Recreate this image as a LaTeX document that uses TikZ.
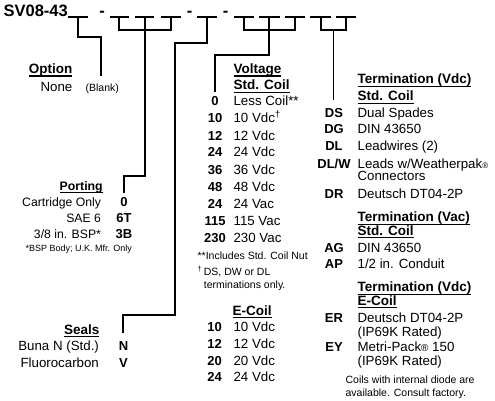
\documentclass[tikz,border=0pt]{standalone}
\usepackage{fontspec}
\setmainfont{Liberation Sans}
\newcommand{\ulhead}[1]{\setbox0=\hbox{#1}\rlap{\rule[-3.3pt]{\wd0}{1.2pt}}\box0}

\begin{document}
\begin{tikzpicture}[
            x=1pt, y=-1pt,
            line width=1.2pt,
            txt/.style={inner sep=0pt, anchor=base west, font=\fontsize{13.3}{15}\selectfont},
            txtr/.style={txt, anchor=base east},
            head/.style={inner sep=0pt, anchor=base west, font=\fontsize{13.5}{15}\selectfont\bfseries},
            code/.style={inner sep=0pt, anchor=base, font=\fontsize{13}{15}\selectfont\bfseries},
            note/.style={inner sep=0pt, anchor=base west, font=\fontsize{10.5}{12}\selectfont},
            part/.style={inner sep=0pt, anchor=base, font=\fontsize{16.5}{18}\selectfont\bfseries}
        ]
            \useasboundingbox (0,0) rectangle (495,401);

            % model code and blanks
            \node[part, anchor=base west] (pn) at (3,17) {SV08-43};
            \node[part] (h1) at (102,17) {-};
            \node[part] (h2) at (189.5,17) {-};
            \node[part] (h3) at (225.5,17) {-};
            \foreach \a/\b in {68/88, 110/129, 135/154, 161/181, 197/217,
                               234/254, 259/280, 285/305, 310/331, 336/356} {
                \draw (\a,17) -- (\b,17);
            }

            \coordinate (opt) at (78,17);
            \coordinate (p1) at (119,17);
            \coordinate (p2) at (145,17);
            \coordinate (p3) at (171,17);
            \coordinate (sl) at (207,17);
            \coordinate (v1) at (244,17);
            \coordinate (v2) at (269,17);
            \coordinate (v3) at (295,17);
            \coordinate (t1) at (321,17);
            \coordinate (t2) at (346,17);
            \coordinate (tmid) at (333.5,30);

            \coordinate (optend) at (101,76);
            \coordinate (portend) at (124,193);
            \coordinate (sealend) at (123,333);
            \coordinate (voltend) at (215,92);
            \coordinate (termend) at (333.5,100);

            % leaders
            \draw (opt) -- ++(0,20) -| (optend);
            \draw (p1) -- ++(0,13) -| (p3);
            \draw (p2) -- ++(0,159) -| (portend);
            \draw (sl) -- ++(0,26) -| ++(-32,272) -| (sealend);
            \draw (v1) -- ++(0,13) -| (v3);
            \draw (v2) -- ++(0,38) -| (voltend);
            \draw (t1) -- ++(0,13) -| (t2);
            \draw (tmid) -- (termend);

            % option
            \node[head, anchor=base east] (option) at (73,73.3) {\ulhead{Option}};
            \node[txtr] (none) at (73,91.7) {None};
            \node[note] (blank) at (85,91.7) {(Blank)};

            % porting
            \node[head, anchor=base east, font=\fontsize{12.3}{14}\selectfont\bfseries] (porting) at (103.3,190) {\ulhead{Porting}};
            \foreach \n/\k/\y [count=\i] in {Cartridge Only/0/206.5, SAE 6/6T/222.5, {3/8 in. BSP*}/3B/238.5} {
                \node[txtr, font=\fontsize{12.2}{14}\selectfont] (pd\i) at (101.5,\y) {\n};
                \node[code] (pc\i) at (124,\y) {\k};
            }
            \node[note, font=\fontsize{9}{10}\selectfont] (bsp) at (25,251.7) {*BSP Body; U.K. Mfr. Only};

            % seals
            \node[head, anchor=base east] (seals) at (100,334) {\ulhead{Seals}};
            \node[txtr] (sd1) at (99.5,350.7) {Buna N (Std.)};
            \node[code] (sc1) at (123.5,350.7) {N};
            \node[txtr] (sd2) at (99.5,367.3) {Fluorocarbon};
            \node[code] (sc2) at (123.5,367.3) {V};

            % voltage, std. coil
            \node[head] (volt) at (233,73.3) {\ulhead{Voltage}};
            \node[head] (vstd) at (233,89.5) {\ulhead{Std. Coil}};
            \foreach \k/\d/\y [count=\i] in {
                0/Less Coil**/106,
                10/10 Vdc\textsuperscript{†}/123,
                12/12 Vdc/140,
                24/24 Vdc/157,
                36/36 Vdc/174,
                48/48 Vdc/191,
                24/24 Vac/208,
                115/115 Vac/225,
                230/230 Vac/242
            } {
                \node[code] (vc\i) at (215,\y) {\k};
                \node[txt] (vd\i) at (233,\y) {\d};
            }
            \node[note] (nut) at (197,259.3) {**Includes Std. Coil Nut};
            \node[note] (dag) at (197,275) {\textsuperscript{†}};
            \node[note] (only1) at (203.3,275) {DS, DW or DL};
            \node[note] (only2) at (203.3,288.3) {terminations only.};

            % voltage, e-coil
            \node[head] (ecoil) at (232,315) {\ulhead{E-Coil}};
            \foreach \k/\y [count=\i] in {10/331.7, 12/348.3, 20/365, 24/381.7} {
                \node[code] (ec\i) at (214.5,\y) {\k};
                \node[txt] (ed\i) at (233,\y) {\k\ Vdc};
            }

            % termination
            \node[head] (tvdc) at (357,84) {\ulhead{Termination (Vdc)}};
            \node[head] (tstd) at (357,100.7) {\ulhead{Std. Coil}};
            \foreach \k/\d/\y [count=\i] in {
                DS/Dual Spades/117.3,
                DG/DIN 43650/134,
                DL/Leadwires (2)/150.7,
                {DL/W}/{Leads w/Weatherpak{\fontsize{8}{8}\selectfont ®}}/168,
                DR/Deutsch DT04-2P/198.3,
                AG/DIN 43650/252.7,
                AP/{1/2 in. Conduit}/268.3,
                ER/Deutsch DT04-2P/322.7,
                EY/Metri-Pack{\fontsize{10}{10}\selectfont ®} 150/351.7
            } {
                \node[code] (tc\i) at (334,\y) {\k};
                \node[txt] (td\i) at (357,\y) {\d};
            }
            \node[txt] (conn) at (357,180.7) {Connectors};
            \node[head] (tvac) at (357,221.7) {\ulhead{Termination (Vac)}};
            \node[head] (tstd2) at (357,235) {\ulhead{Std. Coil}};
            \node[head] (tvdc2) at (357,291.7) {\ulhead{Termination (Vdc)}};
            \node[head] (tecoil) at (357,305) {\ulhead{E-Coil}};
            \node[txt] (ip1) at (357,336) {(IP69K Rated)};
            \node[txt] (ip2) at (357,365) {(IP69K Rated)};
            \node[note] (diode1) at (345,383.3) {Coils with internal diode are};
            \node[note] (diode2) at (345,396.7) {available. Consult factory.};
        \end{tikzpicture}
\end{document}
